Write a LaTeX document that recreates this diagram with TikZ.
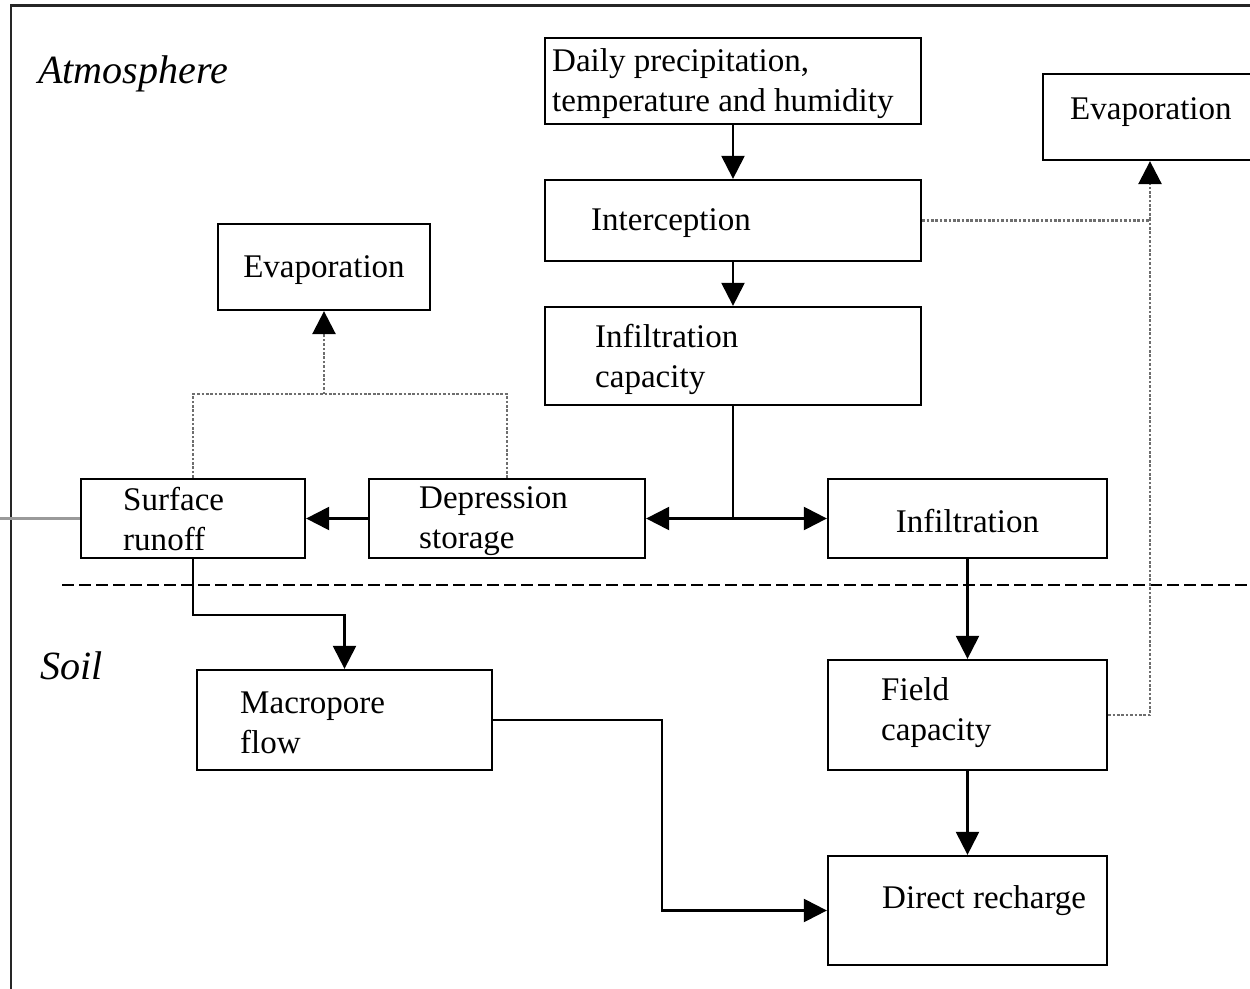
\documentclass[tikz,border=0pt]{standalone}
\usepackage{fontspec}
\setmainfont{Liberation Serif}
\definecolor{DotGray}{HTML}{6E6E6E}
\definecolor{EdgeGray}{HTML}{9A9A9A}
\usetikzlibrary{arrows.meta,positioning,calc}
\tikzset{
  box/.style={draw=black, line width=1.3pt, fill=white, inner sep=0pt},
  boxText/.style={inner sep=0pt, align=left, yshift=-0.06cm, font=\fontsize{18.8}{22.8}\selectfont},
  zoneLabel/.style={inner sep=0pt, anchor=west, font=\fontsize{22.8}{26}\selectfont\itshape},
  flowLine/.style={draw=black, line width=1.3pt},
  arrow/.style={-{Triangle[length=0.46cm, width=0.46cm]}, line width=1.3pt, draw=black},
  dotLine/.style={draw=DotGray, line width=1.5pt, densely dotted},
  dotArrow/.style={-{Triangle[length=0.46cm, width=0.46cm, black]}, line width=1.5pt, draw=DotGray, densely dotted},
  divider/.style={draw=black, line width=1.3pt, dash pattern=on 0.24cm off 0.1cm},
  frameLine/.style={draw=black!85, line width=1.5pt}
}
\begin{document}
\begin{tikzpicture}
\useasboundingbox (0,0) rectangle (25,-19.78);

% outer frame and zone labels
\coordinate (frameBL) at (0.22,-20.2);
\coordinate (frameTR) at (25.4,-0.11);
\draw[frameLine] (frameBL) |- (frameTR);
\node[zoneLabel] (atmo) at (0.76,-1.48) {Atmosphere};
\node[zoneLabel] (soil) at (0.8,-13.32) {Soil};

% boxes
\node[box, minimum width=7.52cm, minimum height=1.72cm] (daily) at (14.66,-1.62) {};
\node[box, minimum width=7.52cm, minimum height=1.62cm] (intercept) at (14.66,-4.41) {};
\node[box, minimum width=7.52cm, minimum height=1.96cm] (infcap) at (14.66,-7.12) {};
\node[box, minimum width=4.74cm, minimum height=1.72cm] (evapR) at (23.23,-2.34) {};
\node[box, minimum width=4.24cm, minimum height=1.72cm] (evapL) at (6.48,-5.34) {};
\node[box, minimum width=4.48cm, minimum height=1.58cm] (runoff) at (3.86,-10.37) {};
\node[box, minimum width=5.52cm, minimum height=1.58cm] (depress) at (10.14,-10.37) {};
\node[box, minimum width=5.58cm, minimum height=1.58cm] (infil) at (19.35,-10.37) {};
\node[box, minimum width=5.90cm, minimum height=2.00cm] (macro) at (6.89,-14.4) {};
\node[box, minimum width=5.58cm, minimum height=2.20cm] (field) at (19.35,-14.3) {};
\node[box, minimum width=5.58cm, minimum height=2.18cm] (recharge) at (19.35,-18.21) {};

% box texts
\node[boxText, right=0.16cm of daily.west] (dailyText) {Daily precipitation,\\temperature and humidity};
\node[boxText, right=0.94cm of intercept.west] (interceptText) {Interception};
\node[boxText, right=1.02cm of infcap.west] (infcapText) {Infiltration\\capacity};
\node[boxText, right=0.56cm of evapR.west, yshift=0.16cm] (evapRText) {Evaporation};
\node[boxText] (evapLText) at (evapL) {Evaporation};
\node[boxText, right=0.86cm of runoff.west, yshift=0.05cm] (runoffText) {Surface\\runoff};
\node[boxText, right=1.02cm of depress.west] (depressText) {Depression\\storage};
\node[boxText] (infilText) at (infil) {Infiltration};
\node[boxText, right=0.88cm of macro.west] (macroText) {Macropore\\flow};
\node[boxText, right=1.08cm of field.west, yshift=0.1cm] (fieldText) {Field\\capacity};
\node[boxText, right=1.1cm of recharge.west, yshift=0.26cm] (rechargeText) {Direct recharge};

% surface / soil boundary
\coordinate (divL) at (1.24,-11.7);
\coordinate (divR) at (25.4,-11.7);
\draw[divider] (divL) -- (divR);

% main flow
\coordinate (split) at (infcap.south |- depress.east);
\draw[arrow] (daily) -- (intercept);
\draw[arrow] (intercept) -- (infcap);
\draw[flowLine] (infcap.south) -- (split);
\draw[arrow] (split) -- (depress.east);
\draw[arrow] (split) -- (infil.west);
\draw[arrow] (depress.west) -- (runoff.east);
\draw[arrow] (runoff.south) -- ++(0,-1.12) -| (macro.north);
\draw[arrow] (macro.east) -- ++(3.38,0) |- (recharge.west);
\draw[arrow] (infil) -- (field);
\draw[arrow] (field) -- (recharge);

% runoff leaving the plot
\coordinate (leftEnd) at (0,-10.37);
\draw[draw=EdgeGray, line width=1.3pt] (runoff.west) -- (leftEnd);

% evaporation losses
\coordinate (evapRIn) at ([xshift=-0.23cm]evapR.south);
\coordinate (evapJoin) at ([yshift=-1.66cm]evapL.south);
\draw[dotArrow] (intercept.east) -| (evapRIn);
\draw[dotLine] (field.east) -| (evapRIn |- intercept.east);
\draw[dotLine] (runoff.north) |- (evapJoin) -| (depress.north);
\draw[dotArrow] (evapJoin) -- (evapL.south);
\end{tikzpicture}
\end{document}
